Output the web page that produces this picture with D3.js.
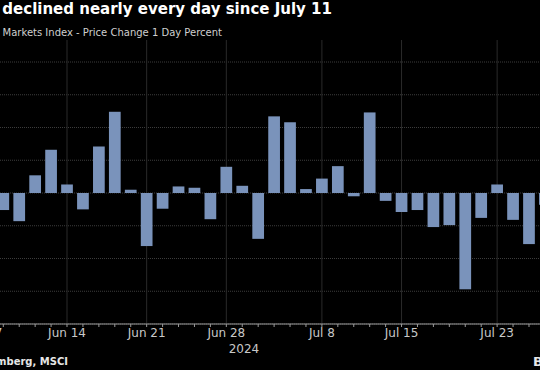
<!DOCTYPE html>
<html>
<head>
<meta charset="utf-8">
<script src="https://cdn.jsdelivr.net/npm/d3@7"></script>
<style>
  body { margin: 0; background: #000; }
  svg { display: block; }
</style>
</head>
<body>
<div id="chart"></div>
<script>
// trading days shown (Jun 7 sits just off the left edge)
const dates = [
    "2024-06-07", "2024-06-10", "2024-06-11", "2024-06-12", "2024-06-13", "2024-06-14",
    "2024-06-17", "2024-06-18", "2024-06-19", "2024-06-20", "2024-06-21",
    "2024-06-24", "2024-06-25", "2024-06-26", "2024-06-27", "2024-06-28",
    "2024-07-01", "2024-07-02", "2024-07-03", "2024-07-04", "2024-07-05",
    "2024-07-08", "2024-07-09", "2024-07-10", "2024-07-11", "2024-07-12",
    "2024-07-15", "2024-07-16", "2024-07-17", "2024-07-18", "2024-07-19",
    "2024-07-22", "2024-07-23", "2024-07-24", "2024-07-25", "2024-07-26"
];
// 1 day % change
const changes = [
    null, -0.26, -0.43, 0.27, 0.66, 0.13,
    -0.25, 0.71, 1.24, 0.05, -0.81,
    -0.24, 0.10, 0.08, -0.40, 0.40,
    0.11, -0.70, 1.17, 1.08, 0.06,
    0.22, 0.41, -0.05, 1.23, -0.12,
    -0.29, -0.26, -0.52, -0.49, -1.47,
    -0.38, 0.13, -0.41, -0.78, -0.18
];
const labelDates = ["2024-06-07", "2024-06-14", "2024-06-21", "2024-06-28", "2024-07-08", "2024-07-15", "2024-07-23"];
const yTicks = [-2, -1.5, -1, -0.5, 0, 0.5, 1, 1.5, 2];

const width = 540, height = 370;
const font = "'DejaVu Sans', sans-serif";
const fmt = d3.timeFormat("%b %-d");
const parse = d3.timeParse("%Y-%m-%d");

const svg = d3.select("#chart").append("svg")
    .attr("width", width)
    .attr("height", height)
    .style("background", "#000");

// band scale, range spills past both edges (chart is cropped)
const step = 15.93;
const x = d3.scaleBand()
    .domain(dates)
    .range([-20.6, -20.6 + step * dates.length])
    .paddingInner(0.265)
    .paddingOuter(0.1325);
const cx = d => x(d) + x.bandwidth() / 2;

const y = d3.scaleLinear().domain([-2, 2]).range([324, 62]);

// horizontal dotted grid
svg.append("g")
    .selectAll("line")
    .data(yTicks)
    .join("line")
    .attr("x1", 0).attr("x2", width)
    .attr("y1", d => y(d)).attr("y2", d => y(d))
    .style("stroke", "#3c3c3c")
    .style("stroke-dasharray", "1,1");

// vertical grid at labelled dates
svg.append("g")
    .selectAll("line")
    .data(labelDates)
    .join("line")
    .attr("x1", d => cx(d)).attr("x2", d => cx(d))
    .attr("y1", 40).attr("y2", y(-2))
    .style("stroke", "#2a2a2a");

// bars
svg.append("g")
    .selectAll("rect")
    .data(dates.map((d, i) => ({ date: d, v: changes[i] })).filter(d => d.v !== null))
    .join("rect")
    .attr("x", d => x(d.date))
    .attr("width", x.bandwidth())
    .attr("y", d => y(Math.max(0, d.v)))
    .attr("height", d => Math.abs(y(d.v) - y(0)))
    .attr("fill", "#7a93bb");

// x axis
const xAxis = d3.axisBottom(x)
    .tickSize(3)
    .tickFormat(d => labelDates.includes(d) ? fmt(parse(d)) : "");
const ax = svg.append("g")
    .attr("transform", `translate(0,${y(-2)})`)
    .call(xAxis);
ax.select(".domain").attr("d", `M0,0H${width}`).style("stroke", "#9a9a9a");
ax.selectAll(".tick line").style("stroke", "#9a9a9a");
ax.selectAll(".tick text")
    .attr("y", 4)
    .style("fill", "#c8c8c8")
    .style("font-family", font)
    .style("font-size", "12px");

svg.append("text")
    .attr("x", 244).attr("y", 353)
    .attr("text-anchor", "middle")
    .style("fill", "#c8c8c8")
    .style("font-family", font)
    .style("font-size", "12px")
    .text("2024");

// titles
svg.append("text")
    .attr("x", 332).attr("y", 14)
    .attr("text-anchor", "end")
    .style("fill", "#fff")
    .style("font-family", font)
    .style("font-weight", "bold")
    .style("font-size", "15px")
    .text("Emerging-Market Stocks Have declined nearly every day since July 11");

svg.append("text")
    .attr("x", 222).attr("y", 36)
    .attr("text-anchor", "end")
    .style("fill", "#cfcfcf")
    .style("font-family", font)
    .style("font-size", "10px")
    .text("MSCI Emerging Markets Index - Price Change 1 Day Percent");

// footer
svg.append("text")
    .attr("x", 68).attr("y", 365)
    .attr("text-anchor", "end")
    .style("fill", "#e6e6e6")
    .style("font-family", font)
    .style("font-weight", "bold")
    .style("font-size", "10px")
    .text("Source: Bloomberg, MSCI");

svg.append("text")
    .attr("x", 533).attr("y", 366)
    .style("fill", "#e6e6e6")
    .style("font-family", font)
    .style("font-weight", "bold")
    .style("font-size", "13px")
    .text("Bloomberg");
</script>
</body>
</html>
